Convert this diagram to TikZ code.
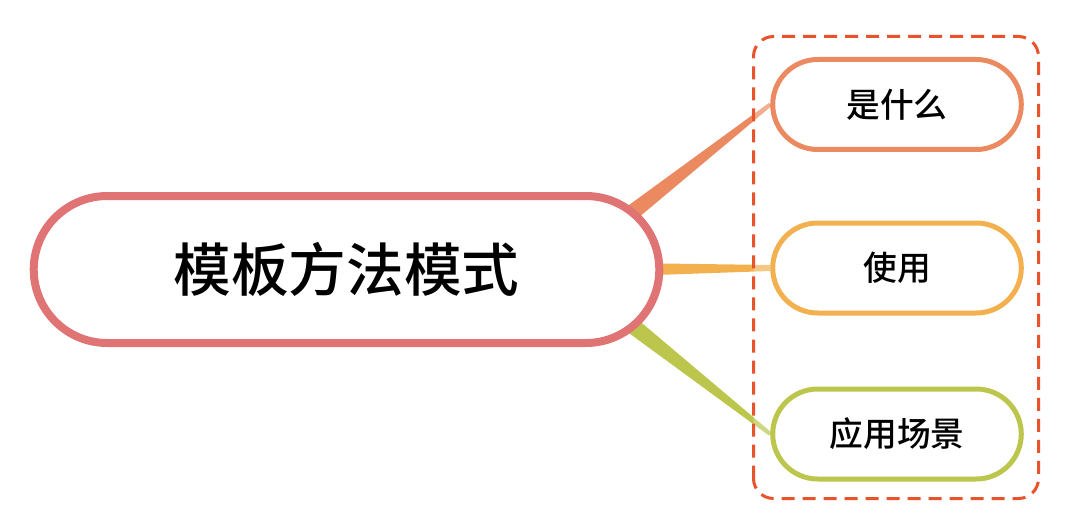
\documentclass[tikz,border=0pt]{standalone}
\usepackage{fontspec}
\newfontfamily\cjk{Noto Sans CJK SC}[BoldFont={Noto Sans CJK SC Medium}]
\usepackage{tikz}
\usetikzlibrary{positioning,calc,shapes.misc,backgrounds}

\definecolor{topicred}{HTML}{E07474}
\definecolor{whatorange}{HTML}{EB8A61}
\definecolor{useyellow}{HTML}{F2B04F}
\definecolor{scenegreen}{HTML}{BCC64C}
\definecolor{framered}{HTML}{E9532B}

\newcommand\branch[5]{%
  \fill[#5] ($(#1)!#3!90:(#2)$) -- ($(#2)!#4!-90:(#1)$)
    -- ($(#2)!#4!90:(#1)$) -- ($(#1)!#3!-90:(#2)$) -- cycle;}

\begin{document}
\begin{tikzpicture}[
	mainbox/.style={rounded rectangle, draw=topicred, line width=0.08cm, fill=white,
		minimum width=6.49cm, minimum height=1.47cm,
		font=\cjk\bfseries\fontsize{16.4}{20}\selectfont},
	subbox/.style={rounded rectangle, draw=#1, line width=0.05cm, fill=white,
		minimum width=2.72cm, minimum height=0.90cm,
		font=\cjk\bfseries\fontsize{9.6}{12}\selectfont}]
			\useasboundingbox (0,0) rectangle (10.8,5.25);
			
			\node[mainbox] (topic) at (3.465,2.555) {模板方法模式};
			
			\node[subbox=whatorange] (what) at (8.97,4.205) {是什么};
			\node[subbox=useyellow] (use) at (8.97,2.57) {使用};
			\node[subbox=scenegreen] (scene) at (8.97,0.91) {应用场景};
			
			\coordinate (rootwhat) at ($(topic.east)+(-0.56,0.375)$);
			\coordinate (rootuse) at ($(topic.east)+(-0.36,0)$);
			\coordinate (rootscene) at ($(topic.east)+(-0.52,-0.395)$);
			
			\begin{scope}[on background layer]
				\branch{rootwhat}{what.west}{0.09cm}{0.02cm}{whatorange}
				\branch{rootuse}{use.west}{0.065cm}{0.03cm}{useyellow}
				\branch{rootscene}{scene.west}{0.09cm}{0.02cm}{scenegreen}
				\draw[framered, line width=0.03cm, dash pattern=on 0.13cm off 0.08cm,
					rounded corners=0.2cm, fill=white, fill opacity=0.3]
					(7.535,0.265) rectangle (10.385,4.885);
			\end{scope}
		\end{tikzpicture}
\end{document}
